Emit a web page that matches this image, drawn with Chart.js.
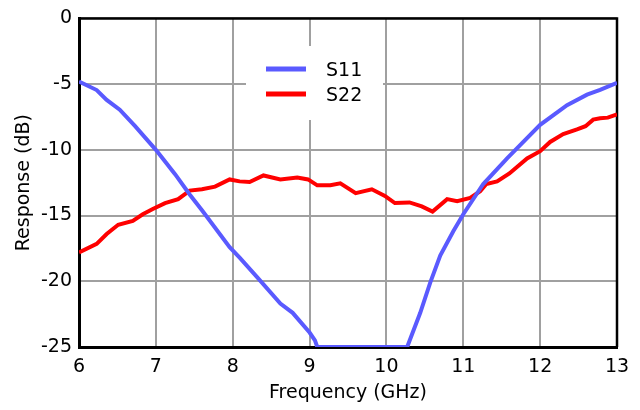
<!DOCTYPE html>
<html><head><meta charset="utf-8">
<script src="https://cdn.jsdelivr.net/npm/chart.js@4.4.0/dist/chart.umd.min.js"></script>
<style>html,body{margin:0;padding:0;background:#fff}</style>
</head><body>
<canvas id="c" width="640" height="410"></canvas>
<script>
const seriesNames = ['S11', 'S22'];
const s11Freq = [6.0, 6.23, 6.36, 6.53, 6.73, 7.0, 7.25, 7.44, 7.6, 7.96, 8.09, 8.32, 8.62, 8.78, 9.0, 9.07, 9.1, 10.27, 10.44, 10.57, 10.7, 10.87, 11.0, 11.26, 11.57, 12.0, 12.35, 12.61, 12.78, 13.0];
const s11Resp = [-4.8, -5.45, -6.2, -6.95, -8.2, -10.0, -11.85, -13.4, -14.6, -17.4, -18.2, -19.7, -21.7, -22.4, -23.9, -24.5, -25, -25, -22.4, -20.1, -18.05, -16.2, -14.9, -12.6, -10.65, -8.1, -6.6, -5.8, -5.44, -4.9];
const s22Freq = [6.0, 6.23, 6.36, 6.51, 6.7, 6.83, 6.96, 7.12, 7.29, 7.44, 7.6, 7.77, 7.96, 8.09, 8.22, 8.4, 8.62, 8.84, 8.98, 9.1, 9.27, 9.4, 9.6, 9.81, 9.98, 10.11, 10.3, 10.46, 10.6, 10.79, 10.92, 11.09, 11.22, 11.3, 11.44, 11.6, 11.83, 12.0, 12.13, 12.3, 12.48, 12.59, 12.69, 12.78, 12.88, 13.0];
const s22Resp = [-17.8, -17.15, -16.4, -15.7, -15.4, -14.9, -14.5, -14.05, -13.75, -13.1, -13.0, -12.8, -12.25, -12.4, -12.45, -11.95, -12.25, -12.1, -12.25, -12.7, -12.7, -12.55, -13.3, -13.0, -13.5, -14.05, -14.0, -14.3, -14.7, -13.75, -13.9, -13.65, -13.15, -12.6, -12.4, -11.8, -10.65, -10.1, -9.4, -8.8, -8.45, -8.2, -7.7, -7.6, -7.55, -7.3];
const xTicks = [6, 7, 8, 9, 10, 11, 12, 13];
const yTicks = [0, -5, -10, -15, -20, -25];
const xTitle = 'Frequency (GHz)';
const yTitle = 'Response (dB)';

const FONT = 'DejaVu Sans, Verdana, sans-serif';
const colors = ['#5a5aff', '#ff0000'];

function pts(xs, ys) { return xs.map((x, i) => ({ x: x, y: ys[i] })); }

const framePlugin = {
  id: 'frame',
  beforeDatasetsDraw(chart) {
    const { ctx, chartArea: a } = chart;
    ctx.save();
    ctx.fillStyle = '#ffffff';
    ctx.fillRect(246, 46, 137, 74);
    ctx.strokeStyle = '#000';
    ctx.lineWidth = 2.5;
    ctx.beginPath();
    ctx.moveTo(a.left, a.top);
    ctx.lineTo(a.right, a.top);
    ctx.lineTo(a.right, a.bottom);
    ctx.stroke();
    ctx.restore();
  },
  afterDatasetsDraw(chart) {
    const { ctx } = chart;
    ctx.save();
    chart.data.datasets.forEach((ds, i) => {
      const y = 69 + i * 25;
      ctx.strokeStyle = ds.borderColor;
      ctx.lineWidth = 5;
      ctx.beginPath();
      ctx.moveTo(266, y);
      ctx.lineTo(306, y);
      ctx.stroke();
      ctx.fillStyle = '#000';
      ctx.font = '19px ' + FONT;
      ctx.textBaseline = 'middle';
      ctx.textAlign = 'left';
      ctx.fillText(ds.label, 326, y + 2);
    });
    ctx.restore();
  }
};

new Chart(document.getElementById('c'), {
  type: 'line',
  data: {
    datasets: [
      { label: seriesNames[0], data: pts(s11Freq, s11Resp), borderColor: colors[0], borderWidth: 4, pointRadius: 0, tension: 0, fill: false },
      { label: seriesNames[1], data: pts(s22Freq, s22Resp), borderColor: colors[1], borderWidth: 4, pointRadius: 0, tension: 0, fill: false }
    ]
  },
  options: {
    responsive: false,
    animation: false,
    layout: { padding: { top: 16, right: 23, left: 0, bottom: 0 } },
    plugins: { legend: { display: false }, tooltip: { enabled: false } },
    scales: {
      x: {
        type: 'linear', min: 6, max: 13,
        afterBuildTicks(s) { s.ticks = xTicks.map(v => ({ value: v })); },
        afterFit(s) { s.height = 63; },
        ticks: { color: '#000', font: { family: FONT, size: 19 }, padding: 9 },
        grid: { color: '#a0a0a0', lineWidth: 2, drawTicks: false },
        border: { color: '#000', width: 3 },
        title: { display: true, text: xTitle, color: '#000', font: { family: FONT, size: 19 }, padding: { top: 6, bottom: 6 } }
      },
      y: {
        type: 'linear', min: -25, max: 0,
        afterBuildTicks(s) { s.ticks = yTicks.map(v => ({ value: v })); },
        afterFit(s) { s.width = 79; },
        ticks: { color: '#000', font: { family: FONT, size: 19 }, padding: 7 },
        grid: { color: '#a0a0a0', lineWidth: 2, drawTicks: false },
        border: { color: '#000', width: 3 },
        title: { display: true, text: yTitle, color: '#000', font: { family: FONT, size: 19 }, padding: { top: 13, bottom: 0 } }
      }
    }
  },
  plugins: [framePlugin]
});
</script>
</body></html>
